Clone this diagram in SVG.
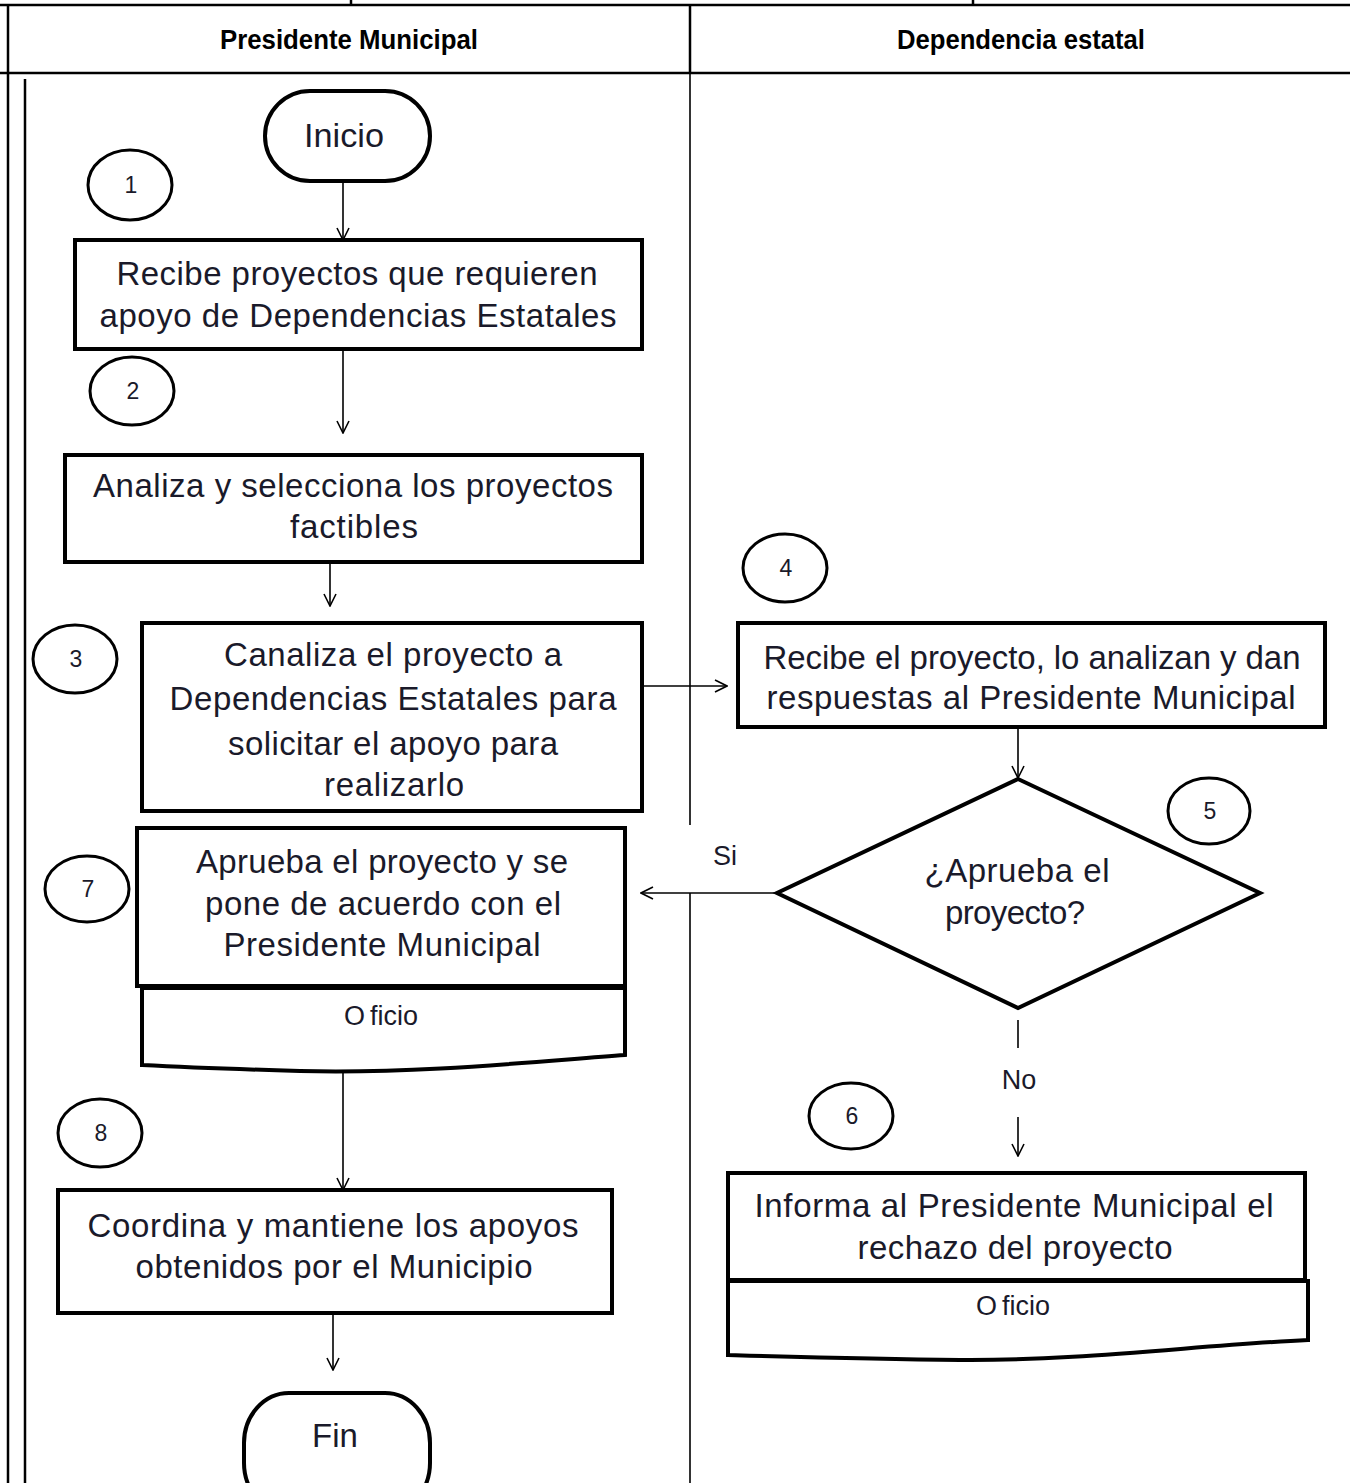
<svg xmlns="http://www.w3.org/2000/svg" width="1350" height="1483" viewBox="0 0 1350 1483">
<style>
.tbl{stroke:#000;stroke-width:2.5;fill:none}
.lane{stroke:#000;fill:none}
.box{fill:#fff;stroke:#000;stroke-width:4}
.circ{fill:#fff;stroke:#000;stroke-width:3}
.con{fill:none;stroke:#000;stroke-width:1.6}
.h{font-family:"Liberation Sans",Arial,sans-serif;font-weight:bold;font-size:27px;fill:#000;text-anchor:middle}
.t{font-family:"Liberation Sans",Arial,sans-serif;font-size:33px;fill:#1a1a2a;text-anchor:middle}
.s{font-family:"Liberation Sans",Arial,sans-serif;font-size:27px;fill:#1a1a2a;text-anchor:middle}
.n{font-family:"Liberation Sans",Arial,sans-serif;font-size:23px;fill:#1a1a2a;text-anchor:middle}
</style>
<defs>
<marker id="arr" viewBox="0 0 14 14" refX="13" refY="7" markerWidth="14" markerHeight="14" markerUnits="userSpaceOnUse" orient="auto">
<path d="M1,1 L13,7 L1,13" fill="none" stroke="#000" stroke-width="1.6"/>
</marker>
</defs>
<rect width="1350" height="1483" fill="#fff"/>
<g id="table">
<line class="tbl" x1="0" y1="5" x2="1350" y2="5"/>
<line class="tbl" x1="351" y1="0" x2="351" y2="5"/>
<line class="tbl" x1="973" y1="0" x2="973" y2="5"/>
<line class="tbl" x1="0" y1="73" x2="1350" y2="73"/>
<line class="tbl" x1="8" y1="5" x2="8" y2="1483"/>
<line class="tbl" x1="690" y1="5" x2="690" y2="73"/>
<text class="h" x="349" y="49" textLength="258" lengthAdjust="spacingAndGlyphs">Presidente Municipal</text>
<text class="h" x="1021" y="49" textLength="248" lengthAdjust="spacingAndGlyphs">Dependencia estatal</text>
</g>
<g id="lanes">
<line class="lane" stroke-width="2.5" x1="25" y1="79" x2="25" y2="1483"/>
<line class="lane" stroke-width="1.6" x1="690" y1="73" x2="690" y2="825"/>
<line class="lane" stroke-width="1.6" x1="690" y1="893" x2="690" y2="1483"/>
</g>
<g id="connectors">
<path class="con" d="M343,181 V240" marker-end="url(#arr)"/>
<path class="con" d="M343,349 V433" marker-end="url(#arr)"/>
<path class="con" d="M330,562 V606" marker-end="url(#arr)"/>
<path class="con" d="M642,686 H727" marker-end="url(#arr)"/>
<path class="con" d="M1018,727 V778" marker-end="url(#arr)"/>
<path class="con" d="M777,893 H641" marker-end="url(#arr)"/>
<path class="con" d="M1018,1020 V1048"/>
<path class="con" d="M1018,1117 V1156" marker-end="url(#arr)"/>
<path class="con" d="M343,1068 V1190" marker-end="url(#arr)"/>
<path class="con" d="M333,1313 V1370" marker-end="url(#arr)"/>
<text class="s" x="725" y="865">Si</text>
<text class="s" x="1019" y="1089">No</text>
</g>
<g id="inicio">
<rect class="box" x="265" y="91" width="165" height="90" rx="45" ry="45" stroke-width="3.5"/>
<text class="t" x="344" y="147" textLength="80" lengthAdjust="spacingAndGlyphs">Inicio</text>
</g>
<g id="c1"><ellipse class="circ" cx="130" cy="185" rx="42" ry="35"/><text class="n" x="131" y="193">1</text></g>
<g id="box1">
<rect class="box" x="75" y="240" width="567" height="109"/>
<text class="t" x="357" y="285" textLength="481" lengthAdjust="spacing">Recibe proyectos que requieren</text>
<text class="t" x="358" y="327" textLength="517" lengthAdjust="spacing">apoyo de Dependencias Estatales</text>
</g>
<g id="c2"><ellipse class="circ" cx="132" cy="391" rx="42" ry="34"/><text class="n" x="133" y="399">2</text></g>
<g id="box2">
<rect class="box" x="65" y="455" width="577" height="107"/>
<text class="t" x="353" y="497" textLength="520" lengthAdjust="spacing">Analiza y selecciona los proyectos</text>
<text class="t" x="354" y="538" textLength="128" lengthAdjust="spacing">factibles</text>
</g>
<g id="c3"><ellipse class="circ" cx="75" cy="659" rx="42" ry="34"/><text class="n" x="76" y="667">3</text></g>
<g id="box3">
<rect class="box" x="142" y="623" width="500" height="188"/>
<text class="t" x="393" y="666" textLength="338" lengthAdjust="spacing">Canaliza el proyecto a</text>
<text class="t" x="393" y="710" textLength="447" lengthAdjust="spacing">Dependencias Estatales para</text>
<text class="t" x="393" y="755" textLength="330" lengthAdjust="spacing">solicitar el apoyo para</text>
<text class="t" x="394" y="796" textLength="140" lengthAdjust="spacing">realizarlo</text>
</g>
<g id="c4"><ellipse class="circ" cx="785" cy="568" rx="42" ry="34"/><text class="n" x="786" y="576">4</text></g>
<g id="box4">
<rect class="box" x="738" y="623" width="587" height="104"/>
<text class="t" x="1032" y="669" textLength="537" lengthAdjust="spacing">Recibe el proyecto, lo analizan y dan</text>
<text class="t" x="1031" y="709" textLength="529" lengthAdjust="spacing">respuestas al Presidente Municipal</text>
</g>
<g id="decision">
<polygon class="box" points="1018,779 1260,893 1018,1008 777,893"/>
<text class="t" x="1017" y="882" textLength="185" lengthAdjust="spacing">¿Aprueba el</text>
<text class="t" x="1015" y="924" textLength="140" lengthAdjust="spacing">proyecto?</text>
</g>
<g id="c5"><ellipse class="circ" cx="1209" cy="811" rx="41" ry="33"/><text class="n" x="1210" y="819">5</text></g>
<g id="box7">
<path class="box" d="M142,988 H625 V1055 C540,1061 420,1074 300,1071 C230,1069 180,1067 142,1065 Z"/>
<rect class="box" x="137" y="828" width="488" height="158"/>
<text class="t" x="382" y="873" textLength="372" lengthAdjust="spacing">Aprueba el proyecto y se</text>
<text class="t" x="383" y="915" textLength="356" lengthAdjust="spacing">pone de acuerdo con el</text>
<text class="t" x="382" y="956" textLength="317" lengthAdjust="spacing">Presidente Municipal</text>
<text class="s" x="381" y="1025">O<tspan dx="5">ficio</tspan></text>
</g>
<g id="c7"><ellipse class="circ" cx="87" cy="889" rx="42" ry="33"/><text class="n" x="88" y="897">7</text></g>
<g id="c6"><ellipse class="circ" cx="851" cy="1116" rx="42" ry="33"/><text class="n" x="852" y="1124">6</text></g>
<g id="box6">
<path class="box" d="M728,1281 H1308 V1340 C1200,1345 1080,1361 960,1360 C870,1359 800,1357 728,1355 Z"/>
<rect class="box" x="728" y="1173" width="577" height="107"/>
<text class="t" x="1014" y="1217" textLength="519" lengthAdjust="spacing">Informa al Presidente Municipal el</text>
<text class="t" x="1015" y="1259" textLength="315" lengthAdjust="spacing">rechazo del proyecto</text>
<text class="s" x="1013" y="1315">O<tspan dx="5">ficio</tspan></text>
</g>
<g id="c8"><ellipse class="circ" cx="100" cy="1133" rx="42" ry="34"/><text class="n" x="101" y="1141">8</text></g>
<g id="box8">
<rect class="box" x="58" y="1190" width="554" height="123"/>
<text class="t" x="333" y="1237" textLength="491" lengthAdjust="spacing">Coordina y mantiene los apoyos</text>
<text class="t" x="334" y="1278" textLength="397" lengthAdjust="spacing">obtenidos por el Municipio</text>
</g>
<g id="fin">
<rect class="box" x="244" y="1393" width="186" height="120" rx="45" ry="50" stroke-width="3.5"/>
<text class="t" x="335" y="1447">Fin</text>
</g>
</svg>
